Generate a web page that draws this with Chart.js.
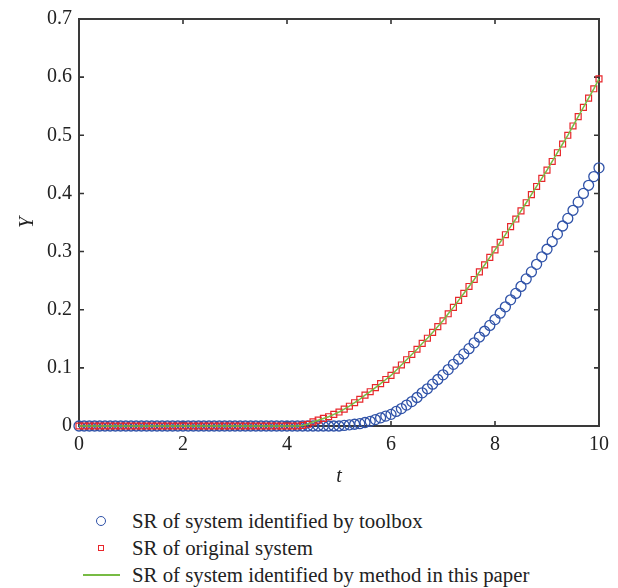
<!DOCTYPE html>
<html>
<head>
<meta charset="utf-8">
<script src="https://cdn.jsdelivr.net/npm/chart.js@4.4.1/dist/chart.umd.min.js"></script>
<style>
  html, body { margin: 0; padding: 0; background: #fff; }
  #wrap { position: relative; width: 618px; height: 588px; }
  #box { position: absolute; left: 0; top: 0; width: 618px; height: 500px; }
  .leg { position: absolute; font-family: "Liberation Serif", "Times New Roman", "DejaVu Serif", serif; font-size: 20.8px; color: #222; white-space: nowrap; line-height: 24px; }
  .mk { position: absolute; box-sizing: border-box; }
</style>
</head>
<body>
<div id="wrap">
  <div id="box"><canvas id="c"></canvas></div>
  <div class="mk" style="left:96px;top:516px;width:10px;height:10px;border:1.3px solid #2f52a8;border-radius:50%;"></div>
  <div class="leg" style="left:132px;top:509px;">SR of system identified by toolbox</div>
  <div class="mk" style="left:98px;top:545px;width:6px;height:6px;border:1.2px solid #e8262b;"></div>
  <div class="leg" style="left:132px;top:536px;">SR of original system</div>
  <div class="mk" style="left:83px;top:574px;width:37px;height:1.5px;background:#77bb44;"></div>
  <div class="leg" style="left:132px;top:563px;">SR of system identified by method in this paper</div>
</div>
<script>
const FONT = "'Liberation Serif', 'Times New Roman', 'DejaVu Serif', serif";

const tValues = [0,0.1,0.2,0.3,0.4,0.5,0.6,0.7,0.8,0.9,1,1.1,1.2,1.3,1.4,1.5,1.6,1.7,1.8,1.9,2,2.1,2.2,2.3,2.4,2.5,2.6,2.7,2.8,2.9,3,3.1,3.2,3.3,3.4,3.5,3.6,3.7,3.8,3.9,4,4.1,4.2,4.3,4.4,4.5,4.6,4.7,4.8,4.9,5,5.1,5.2,5.3,5.4,5.5,5.6,5.7,5.8,5.9,6,6.1,6.2,6.3,6.4,6.5,6.6,6.7,6.8,6.9,7,7.1,7.2,7.3,7.4,7.5,7.6,7.7,7.8,7.9,8,8.1,8.2,8.3,8.4,8.5,8.6,8.7,8.8,8.9,9,9.1,9.2,9.3,9.4,9.5,9.6,9.7,9.8,9.9,10];

const toolboxY = [0,0,0,0,0,0,0,0,0,0,0,0,0,0,0,0,0,0,0,0,0,0,0,0,0,0,0,0,0,0,0,0,0,0,0,0,0,0,0,0,0,0,0,0,0,0,0,0,0,0,0,
  0.001,0.002,0.003,0.004,0.006,0.008,0.011,0.014,0.017,0.020,
  0.025,0.030,0.036,0.042,0.049,0.057,0.064,0.072,0.080,0.088,
  0.097,0.106,0.115,0.124,0.133,0.143,0.153,0.163,0.173,0.183,
  0.194,0.205,0.217,0.228,0.240,0.253,0.265,0.278,0.291,0.304,
  0.317,0.330,0.344,0.357,0.371,0.385,0.400,0.414,0.429,0.444];

const originalY = [0,0,0,0,0,0,0,0,0,0,0,0,0,0,0,0,0,0,0,0,0,0,0,0,0,0,0,0,0,0,0,0,0,0,0,0,0,0,0,0,0,0,0,
  0.001,0.003,0.007,0.010,0.013,0.016,0.020,0.024,
  0.029,0.034,0.040,0.046,0.053,0.059,0.066,0.073,0.080,0.087,
  0.096,0.105,0.114,0.123,0.132,0.142,0.151,0.161,0.171,0.181,
  0.193,0.204,0.216,0.228,0.240,0.252,0.265,0.277,0.290,0.303,
  0.316,0.329,0.343,0.356,0.370,0.384,0.398,0.412,0.426,0.440,
  0.455,0.470,0.485,0.500,0.516,0.532,0.548,0.564,0.580,0.597];

const methodY = [0,0,0,0,0,0,0,0,0,0,0,0,0,0,0,0,0,0,0,0,0,0,0,0,0,0,0,0,0,0,0,0,0,0,0,0,0,0,0,0,0,0,0,
  0.001,0.003,0.007,0.010,0.013,0.016,0.020,0.024,
  0.029,0.034,0.040,0.046,0.053,0.059,0.066,0.073,0.080,0.087,
  0.096,0.105,0.114,0.123,0.132,0.142,0.151,0.161,0.171,0.181,
  0.193,0.204,0.216,0.228,0.240,0.252,0.265,0.277,0.290,0.303,
  0.316,0.329,0.343,0.356,0.370,0.384,0.398,0.412,0.426,0.440,
  0.455,0.470,0.485,0.500,0.516,0.532,0.548,0.564,0.580,0.597];

const xTicks = [0, 2, 4, 6, 8, 10];
const yTicks = [0, 0.1, 0.2, 0.3, 0.4, 0.5, 0.6, 0.7];

const pts = ys => tValues.map((t, i) => ({x: t, y: ys[i]}));

const framePlugin = {
  id: 'frame',
  beforeDatasetsDraw(chart) {
    const {ctx, chartArea: a, scales} = chart;
    ctx.save();
    ctx.strokeStyle = '#333';
    ctx.lineWidth = 1.6;
    ctx.beginPath();
    xTicks.forEach(v => {
      const px = scales.x.getPixelForValue(v);
      ctx.moveTo(px, a.bottom); ctx.lineTo(px, a.bottom - 5);
      ctx.moveTo(px, a.top); ctx.lineTo(px, a.top + 5);
    });
    yTicks.forEach(v => {
      const py = scales.y.getPixelForValue(v);
      ctx.moveTo(a.left, py); ctx.lineTo(a.left + 5, py);
      ctx.moveTo(a.right, py); ctx.lineTo(a.right - 5, py);
    });
    ctx.stroke();
    ctx.lineWidth = 2;
    ctx.strokeStyle = '#3a3a3a';
    ctx.strokeRect(a.left, a.top, a.right - a.left, a.bottom - a.top);
    ctx.restore();
  }
};

new Chart(document.getElementById('c'), {
  type: 'scatter',
  data: {
    datasets: [
      {
        label: 'SR of system identified by toolbox',
        data: pts(toolboxY),
        showLine: false,
        pointStyle: 'circle',
        pointRadius: 5,
        pointBorderWidth: 1.3,
        borderColor: '#2f52a8',
        backgroundColor: 'rgba(0,0,0,0)',
        order: 3,
        clip: false
      },
      {
        label: 'SR of original system',
        data: pts(originalY),
        showLine: false,
        pointStyle: 'rect',
        pointRadius: 4.2,
        pointBorderWidth: 1.2,
        borderColor: '#e8262b',
        backgroundColor: 'rgba(0,0,0,0)',
        order: 2,
        clip: false
      },
      {
        label: 'SR of system identified by method in this paper',
        data: pts(methodY),
        showLine: true,
        pointRadius: 0,
        borderWidth: 1.5,
        borderColor: '#77bb44',
        backgroundColor: '#77bb44',
        tension: 0,
        order: 1,
        clip: false
      }
    ]
  },
  options: {
    responsive: true,
    maintainAspectRatio: false,
    animation: false,
    events: [],
    layout: { padding: { left: 16, right: 19, top: 13, bottom: 11 } },
    plugins: { legend: { display: false }, tooltip: { enabled: false } },
    scales: {
      x: {
        type: 'linear',
        min: 0, max: 10,
        grid: { display: false, drawTicks: false },
        border: { display: false },
        afterBuildTicks: s => { s.ticks = xTicks.map(v => ({value: v})); },
        ticks: { padding: 7, color: '#222', font: { family: FONT, size: 20 } },
        title: { display: true, text: 't', color: '#222', padding: { top: 1, bottom: 0 },
                 font: { family: FONT, size: 20, style: 'italic' } }
      },
      y: {
        type: 'linear',
        min: 0, max: 0.7,
        grid: { display: false, drawTicks: false },
        border: { display: false },
        afterBuildTicks: s => { s.ticks = yTicks.map(v => ({value: v})); },
        ticks: { padding: 7, color: '#222', font: { family: FONT, size: 20 } },
        title: { display: true, text: 'Y', color: '#222', padding: { top: 0, bottom: 0 },
                 font: { family: FONT, size: 20, style: 'italic' } }
      }
    }
  },
  plugins: [framePlugin]
});
</script>
</body>
</html>
